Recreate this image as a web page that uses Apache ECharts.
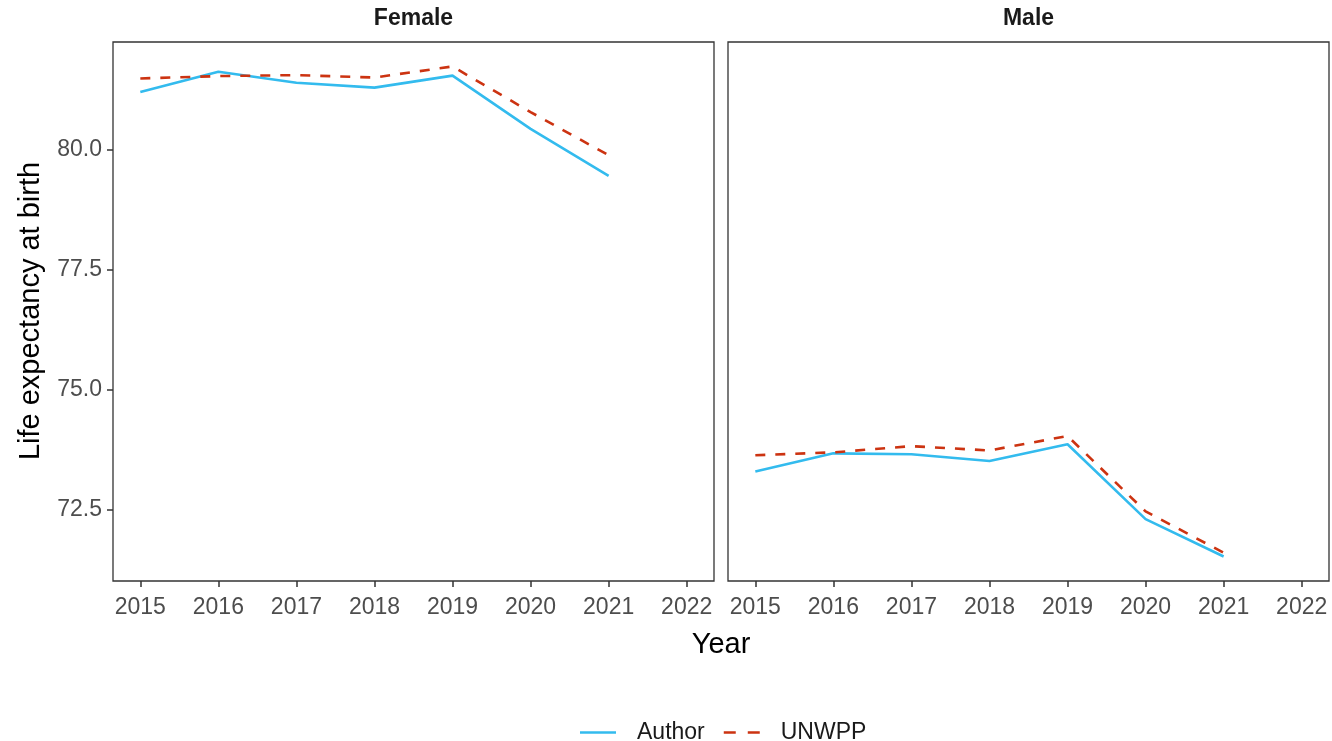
<!DOCTYPE html>
<html>
<head>
<meta charset="utf-8">
<script src="https://cdn.jsdelivr.net/npm/echarts@6/dist/echarts.min.js"></script>
<style>
  html, body { margin: 0; padding: 0; background: #fff; }
  #chart { width: 1332px; height: 741px; }
</style>
</head>
<body>
<div id="chart"></div>
<script>
// Life expectancy at birth, Author estimate vs UNWPP, by sex
const years = [2015, 2016, 2017, 2018, 2019, 2020, 2021]
const yearTicks = [2015, 2016, 2017, 2018, 2019, 2020, 2021, 2022]
const valueTicks = [72.5, 75.0, 77.5, 80.0]

const femaleAuthor = [81.21, 81.63, 81.40, 81.30, 81.55, 80.44, 79.46]
const femaleUnwpp  = [81.49, 81.54, 81.56, 81.51, 81.74, 80.79, 79.89]
const maleAuthor   = [73.30, 73.68, 73.66, 73.52, 73.87, 72.31, 71.53]
const maleUnwpp    = [73.64, 73.70, 73.83, 73.74, 74.04, 72.47, 71.61]

const BLUE = '#33bbee'
const RED = '#cc3311'
const FONT = '"Liberation Sans", Arial, sans-serif'

const pairs = (vals) => years.map((y, i) => [y, vals[i]])

const xAxisBase = (gridIndex) => ({
  type: 'value',
  gridIndex,
  min: 2014.65,
  max: 2022.35,
  axisLine: { show: false },
  splitLine: { show: false },
  axisTick: {
    show: true,
    customValues: yearTicks,
    length: 6,
    lineStyle: { color: '#333', width: 1.5 },
  },
  axisLabel: {
    customValues: yearTicks,
    fontSize: 23,
    fontFamily: FONT,
    color: '#4d4d4d',
    margin: 15,
    formatter: (v) => String(v),
  },
})

const yAxisBase = (gridIndex, labels) => ({
  type: 'value',
  gridIndex,
  min: 71.02,
  max: 82.25,
  axisLine: { show: false },
  splitLine: { show: false },
  axisTick: {
    show: labels,
    customValues: valueTicks,
    length: 6,
    lineStyle: { color: '#333', width: 1.5 },
  },
  axisLabel: {
    show: labels,
    customValues: valueTicks,
    fontSize: 23,
    fontFamily: FONT,
    color: '#4d4d4d',
    margin: 11,
    formatter: (v) => v.toFixed(1),
  },
})

const lineSeries = (name, vals, idx, color, dashed) => ({
  name,
  type: 'line',
  xAxisIndex: idx,
  yAxisIndex: idx,
  data: pairs(vals),
  symbol: 'none',
  animation: false,
  lineStyle: { color, width: 2.6, type: dashed ? [10, 10] : 'solid' },
  itemStyle: { color },
})

const chart = echarts.init(document.getElementById('chart'))
chart.setOption({
  backgroundColor: '#fff',
  animation: false,
  grid: [
    { left: 113, top: 42, width: 601, height: 539, show: true, borderColor: '#333', borderWidth: 1.3, backgroundColor: 'transparent' },
    { left: 728, top: 42, width: 601, height: 539, show: true, borderColor: '#333', borderWidth: 1.3, backgroundColor: 'transparent' },
  ],
  xAxis: [xAxisBase(0), xAxisBase(1)],
  yAxis: [yAxisBase(0, true), yAxisBase(1, false)],
  legend: {
    left: 575,
    top: 716,
    itemWidth: 36,
    itemHeight: 2.5,
    itemGap: 19,
    data: [
      { name: 'Author', icon: 'path://M0,0h36v2.5h-36z', itemStyle: { color: BLUE } },
      { name: 'UNWPP', icon: 'path://M0,0h12v2.5h-12z M24,0h12v2.5h-12z', itemStyle: { color: RED } },
    ],
    textStyle: { fontSize: 23, fontFamily: FONT, color: '#1a1a1a', padding: [0, 0, 0, 16] },
  },
  graphic: [
    { type: 'text', x: 413.5, y: 19, style: { text: 'Female', font: 'bold 23px ' + FONT, fill: '#1a1a1a', textAlign: 'center', textVerticalAlign: 'middle' } },
    { type: 'text', x: 1028.5, y: 19, style: { text: 'Male', font: 'bold 23px ' + FONT, fill: '#1a1a1a', textAlign: 'center', textVerticalAlign: 'middle' } },
    { type: 'text', x: 721, y: 645, style: { text: 'Year', font: '29px ' + FONT, fill: '#000', textAlign: 'center', textVerticalAlign: 'middle' } },
    { type: 'text', x: 31, y: 311, rotation: Math.PI / 2, style: { text: 'Life expectancy at birth', font: '29px ' + FONT, fill: '#000', textAlign: 'center', textVerticalAlign: 'middle' } },
  ],
  series: [
    lineSeries('Author', femaleAuthor, 0, BLUE, false),
    lineSeries('UNWPP', femaleUnwpp, 0, RED, true),
    lineSeries('Author', maleAuthor, 1, BLUE, false),
    lineSeries('UNWPP', maleUnwpp, 1, RED, true),
  ],
})
</script>
</body>
</html>
